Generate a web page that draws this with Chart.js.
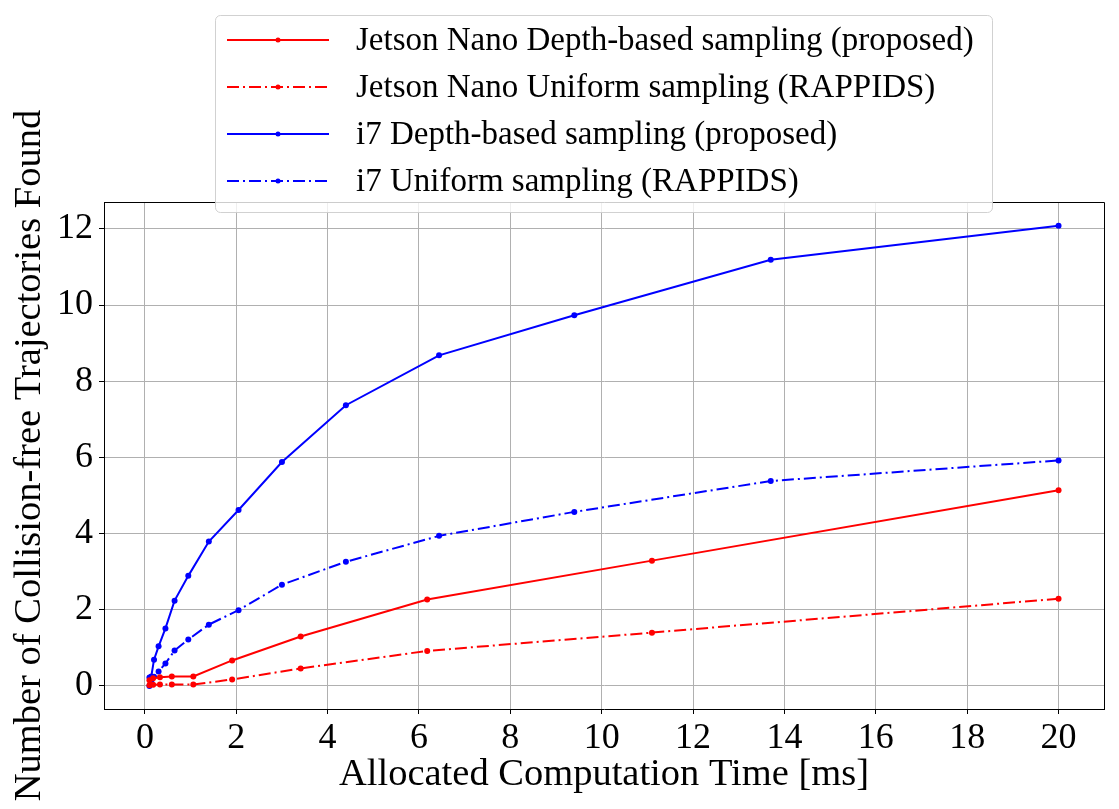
<!DOCTYPE html>
<html>
<head>
<meta charset="utf-8">
<script src="https://cdn.jsdelivr.net/npm/chart.js@4.4.0/dist/chart.umd.min.js"></script>
<style>
  body { margin: 0; background: #fff; }
  #wrap { width: 1119px; height: 809px; }
</style>
</head>
<body>
<div id="wrap"><canvas id="myChart" width="1119" height="809"></canvas></div>
<script>
// allocated time [ms] and trajectories found
const nanoTimes = [0.1, 0.18, 0.33, 0.59, 1.06, 1.91, 3.41, 6.18, 11.1, 20];
const nanoDepth = [0.15, 0.2, 0.23, 0.25, 0.25, 0.67, 1.3, 2.27, 3.29, 5.14];
const nanoUniform = [0.02, 0.03, 0.04, 0.04, 0.04, 0.17, 0.46, 0.92, 1.4, 2.29];

const i7Times = [0.1, 0.14, 0.2, 0.3, 0.45, 0.65, 0.95, 1.4, 2.05, 3.0, 4.4, 6.44, 9.4, 13.7, 20];
const i7Depth = [0.22, 0.25, 0.69, 1.04, 1.51, 2.24, 2.89, 3.79, 4.62, 5.88, 7.37, 8.68, 9.73, 11.19, 12.08];
const i7Uniform = [0.0, 0.12, 0.24, 0.38, 0.59, 0.93, 1.22, 1.61, 1.99, 2.66, 3.26, 3.94, 4.57, 5.38, 5.92];

const xTicks = [0, 2, 4, 6, 8, 10, 12, 14, 16, 18, 20];
const yTicks = [0, 2, 4, 6, 8, 10, 12];

const serif = '"Liberation Serif", "Times New Roman", serif';
const dashDot = [12, 4, 2, 4];

const toPoints = (xs, ys) => xs.map((x, i) => ({ x: x, y: ys[i] }));

const makeSet = (label, xs, ys, color, dash) => ({
  label: label,
  data: toPoints(xs, ys),
  borderColor: color,
  backgroundColor: color,
  borderWidth: 2,
  borderDash: dash,
  pointRadius: 3,
  pointBorderWidth: 0,
  pointBackgroundColor: color,
  tension: 0,
});

const data = {
  datasets: [
    makeSet('Jetson Nano Depth-based sampling (proposed)', nanoTimes, nanoDepth, 'rgb(255,0,0)', []),
    makeSet('Jetson Nano Uniform sampling (RAPPIDS)', nanoTimes, nanoUniform, 'rgb(255,0,0)', dashDot),
    makeSet('i7 Depth-based sampling (proposed)', i7Times, i7Depth, 'rgb(0,0,255)', []),
    makeSet('i7 Uniform sampling (RAPPIDS)', i7Times, i7Uniform, 'rgb(0,0,255)', dashDot),
  ]
};

// top/right spines
const frame = {
  id: 'frame',
  afterDatasetsDraw(chart) {
    const { ctx, chartArea: a } = chart;
    ctx.save();
    ctx.strokeStyle = '#000';
    ctx.lineWidth = 1;
    ctx.beginPath();
    ctx.moveTo(a.left, a.top + 0.5);
    ctx.lineTo(a.right + 0.5, a.top + 0.5);
    ctx.lineTo(a.right + 0.5, a.bottom);
    ctx.stroke();
    ctx.restore();
  }
};

// matplotlib style legend box
const legendBox = {
  id: 'legendBox',
  afterDraw(chart) {
    const ctx = chart.ctx;
    ctx.save();
    ctx.beginPath();
    ctx.roundRect(215.5, 15.5, 777, 197, 5);
    ctx.fillStyle = 'rgba(255,255,255,0.8)';
    ctx.fill();
    ctx.strokeStyle = 'rgba(204,204,204,0.9)';
    ctx.lineWidth = 1;
    ctx.stroke();
    chart.data.datasets.forEach((ds, i) => {
      const y = 40 + i * 47;
      ctx.strokeStyle = ds.borderColor;
      ctx.lineWidth = 2;
      ctx.setLineDash(ds.borderDash);
      ctx.beginPath();
      ctx.moveTo(227, y);
      ctx.lineTo(329, y);
      ctx.stroke();
      ctx.setLineDash([]);
      ctx.fillStyle = ds.borderColor;
      ctx.beginPath();
      ctx.arc(278, y, 2.5, 0, Math.PI * 2);
      ctx.fill();
      ctx.fillStyle = '#000';
      ctx.font = '33px ' + serif;
      ctx.textBaseline = 'middle';
      ctx.textAlign = 'left';
      ctx.fillText(ds.label, 356, y + 1);
    });
    ctx.restore();
  }
};

const config = {
  type: 'line',
  data: data,
  plugins: [frame, legendBox],
  options: {
    responsive: false,
    animation: false,
    devicePixelRatio: 1,
    layout: { padding: { top: 202, right: 15, bottom: 0, left: 0 } },
    plugins: {
      legend: { display: false },
      tooltip: { enabled: false },
    },
    scales: {
      x: {
        type: 'linear',
        min: -0.895,
        max: 20.995,
        afterBuildTicks: (s) => { s.ticks = xTicks.map((v) => ({ value: v })); },
        afterFit: (s) => { s.height = 100; },
        ticks: {
          font: { family: serif, size: 36 },
          color: '#000',
          padding: 3,
          maxRotation: 0,
          autoSkip: false,
        },
        grid: { color: '#b0b0b0', lineWidth: 1, tickColor: '#000', tickLength: 5 },
        border: { display: true, color: '#000', width: 1 },
        title: {
          display: true,
          text: 'Allocated Computation Time [ms]',
          font: { family: serif, size: 38.5 },
          color: '#000',
          padding: { top: 0, bottom: 11 },
        },
      },
      y: {
        type: 'linear',
        min: -0.605,
        max: 12.705,
        afterBuildTicks: (s) => { s.ticks = yTicks.map((v) => ({ value: v })); },
        afterFit: (s) => { s.width = 104; },
        ticks: {
          font: { family: serif, size: 36 },
          color: '#000',
          padding: 6,
        },
        grid: { color: '#b0b0b0', lineWidth: 1, tickColor: '#000', tickLength: 5 },
        border: { display: true, color: '#000', width: 1 },
        title: {
          display: true,
          text: 'Number of Collision-free Trajectories Found',
          font: { family: serif, size: 38.5 },
          color: '#000',
          padding: { top: 7, bottom: 0 },
        },
      },
    },
  },
};

const myChart = new Chart(document.getElementById('myChart'), config);
</script>
</body>
</html>
